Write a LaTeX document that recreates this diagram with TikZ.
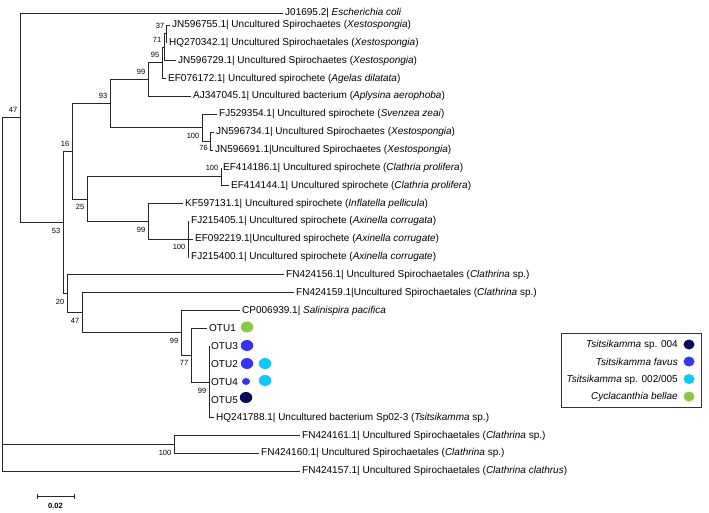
\documentclass[tikz,border=0pt]{standalone}
\usepackage{fontspec}
\setmainfont{Liberation Sans}
\usetikzlibrary{shapes.geometric}
\definecolor{cnavy}{HTML}{0A0A5C}
\definecolor{cblue}{HTML}{3535EE}
\definecolor{ccyan}{HTML}{10C8F5}
\definecolor{cgreen}{HTML}{8DC649}
\begin{document}
\begin{tikzpicture}[x=1pt,y=-1pt,
  br/.style={line width=0.9pt, draw=black!85},
  lab/.style={anchor=west, inner sep=0pt, font=\fontsize{10}{12}\selectfont},
  bs/.style={anchor=east, inner sep=0pt, font=\fontsize{7.5}{9}\selectfont},
  dot/.style={ellipse, minimum width=12.5pt, minimum height=11pt, inner sep=0pt, draw=none},
  sdot/.style={ellipse, minimum width=8pt, minimum height=7pt, inner sep=0pt, draw=none},
  ldot/.style={ellipse, minimum width=11pt, minimum height=10pt, inner sep=0pt, draw=none}]
\useasboundingbox (0,0) rectangle (709,512);

% ---------- internal nodes ----------
\coordinate (root)  at (2,294);
\coordinate (n47)   at (20,117.8);
\coordinate (n53)   at (63,222.6);
\coordinate (n16)   at (72,151.3);
\coordinate (n93)   at (110,103.6);
\coordinate (n99a)  at (148,79.7);
\coordinate (n95)   at (162,62.9);
\coordinate (n71)   at (164,47.3);
\coordinate (n37)   at (166,33.9);
\coordinate (n100b) at (202,127.6);
\coordinate (n76)   at (210,141);
\coordinate (n25)   at (87,199);
\coordinate (n100f) at (221,176.7);
\coordinate (n99b)  at (148,221.35);
\coordinate (n100c) at (188,239.2);
\coordinate (n20)   at (67,293.9);
\coordinate (n47b)  at (82,312.8);
\coordinate (n99c)  at (181,332.9);
\coordinate (n77)   at (191,355.2);
\coordinate (n99d)  at (209,382);
\coordinate (n100e) at (174,444.5);

% ---------- leaf branch ends ----------
\coordinate (l1)  at (283,13);
\coordinate (l2)  at (170,25);
\coordinate (l3)  at (167,42.85);
\coordinate (l4)  at (176,60.7);
\coordinate (l5)  at (166,78.55);
\coordinate (l6)  at (191,96.4);
\coordinate (l7)  at (217,114.25);
\coordinate (l8)  at (214,132.1);
\coordinate (l9)  at (213,149.95);
\coordinate (l10) at (221,167.8);
\coordinate (l11) at (229,185.65);
\coordinate (l12) at (183,203.5);
\coordinate (l13) at (189,221.35);
\coordinate (l14) at (193,239.2);
\coordinate (l15) at (189,257.05);
\coordinate (l16) at (284,274.9);
\coordinate (l17) at (294,292.75);
\coordinate (l18) at (240,310.6);
\coordinate (l19) at (207,328.45);
\coordinate (l20) at (209,346.3);
\coordinate (l21) at (209,364.15);
\coordinate (l22) at (209,382);
\coordinate (l23) at (209,399.85);
\coordinate (l24) at (214,417.7);
\coordinate (l25) at (300,435.55);
\coordinate (l26) at (259,453.4);
\coordinate (l27) at (300,471.25);

% ---------- branches ----------
\draw[br] (root) |- (n47);
\draw[br] (root) |- (n100e);
\draw[br] (root) |- (l27);
\draw[br] (n47) |- (l1);
\draw[br] (n47) |- (n53);
\draw[br] (n53) |- (n16);
\draw[br] (n53) |- (n20);
\draw[br] (n16) |- (n93);
\draw[br] (n16) |- (n25);
\draw[br] (n93) |- (n99a);
\draw[br] (n93) |- (n100b);
\draw[br] (n99a) |- (n95);
\draw[br] (n99a) |- (l6);
\draw[br] (n95) |- (n71);
\draw[br] (n95) |- (l5);
\draw[br] (n71) |- (n37);
\draw[br] (n71) |- (l4);
\draw[br] (n37) |- (l2);
\draw[br] (n37) |- (l3);
\draw[br] (n100b) |- (l7);
\draw[br] (n100b) |- (n76);
\draw[br] (n76) |- (l8);
\draw[br] (n76) |- (l9);
\draw[br] (n25) |- (n100f);
\draw[br] (n25) |- (n99b);
\draw[br] (n100f) |- (l10);
\draw[br] (n100f) |- (l11);
\draw[br] (n99b) |- (l12);
\draw[br] (n99b) |- (n100c);
\draw[br] (n100c) |- (l13);
\draw[br] (n100c) |- (l14);
\draw[br] (n100c) |- (l15);
\draw[br] (n20) |- (l16);
\draw[br] (n20) |- (n47b);
\draw[br] (n47b) |- (l17);
\draw[br] (n47b) |- (n99c);
\draw[br] (n99c) |- (l18);
\draw[br] (n99c) |- (n77);
\draw[br] (n77) |- (l19);
\draw[br] (n77) |- (n99d);
\draw[br] (n99d) |- (l20);
\draw[br] (n99d) |- (l21);
\draw[br] (n99d) |- (l22);
\draw[br] (n99d) |- (l23);
\draw[br] (n99d) |- (l24);
\draw[br] (n100e) |- (l25);
\draw[br] (n100e) |- (l26);

% ---------- leaf labels ----------
\node[lab] (t1)  at ([xshift=2pt]l1)  {J01695.2| \textit{Escherichia coli}};
\node[lab] (t2)  at ([xshift=2pt]l2)  {JN596755.1| Uncultured Spirochaetes (\textit{Xestospongia})};
\node[lab] (t3)  at ([xshift=2pt]l3)  {HQ270342.1| Uncultured Spirochaetales (\textit{Xestospongia})};
\node[lab] (t4)  at ([xshift=2pt]l4)  {JN596729.1| Uncultured Spirochaetes (\textit{Xestospongia})};
\node[lab] (t5)  at ([xshift=2pt]l5)  {EF076172.1| Uncultured spirochete (\textit{Agelas dilatata})};
\node[lab] (t6)  at ([xshift=2pt]l6)  {AJ347045.1| Uncultured bacterium (\textit{Aplysina aerophoba})};
\node[lab] (t7)  at ([xshift=2pt]l7)  {FJ529354.1| Uncultured spirochete (\textit{Svenzea zeai})};
\node[lab] (t8)  at ([xshift=2pt]l8)  {JN596734.1| Uncultured Spirochaetes (\textit{Xestospongia})};
\node[lab] (t9)  at ([xshift=2pt]l9)  {JN596691.1|Uncultured Spirochaetes (\textit{Xestospongia})};
\node[lab] (t10) at ([xshift=2pt]l10) {EF414186.1| Uncultured spirochete (\textit{Clathria prolifera})};
\node[lab] (t11) at ([xshift=2pt]l11) {EF414144.1| Uncultured spirochete (\textit{Clathria prolifera})};
\node[lab] (t12) at ([xshift=2pt]l12) {KF597131.1| Uncultured spirochete (\textit{Inflatella pellicula})};
\node[lab] (t13) at ([xshift=2pt]l13) {FJ215405.1| Uncultured spirochete (\textit{Axinella corrugata})};
\node[lab] (t14) at ([xshift=2pt]l14) {EF092219.1|Uncultured spirochete (\textit{Axinella corrugate})};
\node[lab] (t15) at ([xshift=2pt]l15) {FJ215400.1| Uncultured spirochete (\textit{Axinella corrugate})};
\node[lab] (t16) at ([xshift=2pt]l16) {FN424156.1| Uncultured Spirochaetales (\textit{Clathrina} sp.)};
\node[lab] (t17) at ([xshift=2pt]l17) {FN424159.1|Uncultured Spirochaetales (\textit{Clathrina} sp.)};
\node[lab] (t18) at ([xshift=2pt]l18) {CP006939.1| \textit{Salinispira pacifica}};
\node[lab] (t19) at ([xshift=2pt]l19) {OTU1};
\node[lab] (t20) at ([xshift=2pt]l20) {OTU3};
\node[lab] (t21) at ([xshift=2pt]l21) {OTU2};
\node[lab] (t22) at ([xshift=2pt]l22) {OTU4};
\node[lab] (t23) at ([xshift=2pt]l23) {OTU5};
\node[lab] (t24) at ([xshift=2pt]l24) {HQ241788.1| Uncultured bacterium Sp02-3 (\textit{Tsitsikamma} sp.)};
\node[lab] (t25) at ([xshift=2pt]l25) {FN424161.1| Uncultured Spirochaetales (\textit{Clathrina} sp.)};
\node[lab] (t26) at ([xshift=2pt]l26) {FN424160.1| Uncultured Spirochaetales (\textit{Clathrina} sp.)};
\node[lab] (t27) at ([xshift=2pt]l27) {FN424157.1| Uncultured Spirochaetales (\textit{Clathrina clathrus})};

% ---------- OTU dots ----------
\node[dot, fill=cgreen] (d1)  at (247,327) {};
\node[dot, fill=cblue]  (d3)  at (247,345.5) {};
\node[dot, fill=cblue]  (d2a) at (247,363.5) {};
\node[dot, fill=ccyan]  (d2b) at (265,363.5) {};
\node[sdot, fill=cblue] (d4a) at (246,381.5) {};
\node[dot, fill=ccyan]  (d4b) at (265,380.5) {};
\node[dot, fill=cnavy]  (d5)  at (246,397.5) {};

% ---------- bootstrap values ----------
\node[bs] (b47)   at ([shift={(-2.5,-7.5)}]n47)   {47};
\node[bs] (b53)   at ([shift={(-2.5,8)}]n53)      {53};
\node[bs] (b16)   at ([shift={(-2.5,-7.5)}]n16)   {16};
\node[bs] (b25)   at ([shift={(-2.5,8)}]n25)      {25};
\node[bs] (b93)   at ([shift={(-2.5,-7.5)}]n93)   {93};
\node[bs] (b99a)  at ([shift={(-2.5,-7.5)}]n99a)  {99};
\node[bs] (b95)   at ([shift={(-2.5,-7.5)}]n95)   {95};
\node[bs] (b71)   at ([shift={(-2.5,-7.5)}]n71)   {71};
\node[bs] (b37)   at ([shift={(-1.5,-8)}]n37)     {37};
\node[bs] (b100b) at ([shift={(-2.5,8)}]n100b)    {100};
\node[bs] (b76)   at ([shift={(-2,7)}]n76)        {76};
\node[bs] (b100f) at ([shift={(-2.5,-8.5)}]n100f) {100};
\node[bs] (b99b)  at ([shift={(-2.5,8.5)}]n99b)   {99};
\node[bs] (b100c) at ([shift={(-2.5,8)}]n100c)    {100};
\node[bs] (b20)   at ([shift={(-2.5,8)}]n20)      {20};
\node[bs] (b47b)  at ([shift={(-2.5,8)}]n47b)     {47};
\node[bs] (b99c)  at ([shift={(-2.5,8)}]n99c)     {99};
\node[bs] (b77)   at ([shift={(-2.5,8)}]n77)      {77};
\node[bs] (b99d)  at ([shift={(-2.5,9)}]n99d)     {99};
\node[bs] (b100e) at ([shift={(-2.5,8)}]n100e)    {100};

% ---------- legend ----------
\draw[line width=0.8pt, draw=black!80] (561,333) rectangle (701,407);
\node[lab, anchor=east] (g1) at (678,345) {\textit{Tsitsikamma} sp. 004};
\node[lab, anchor=east] (g2) at (678,362) {\textit{Tsitsikamma favus}};
\node[lab, anchor=east] (g3) at (678,379.5) {\textit{Tsitsikamma} sp. 002/005};
\node[lab, anchor=east] (g4) at (678,397) {\textit{Cyclacanthia bellae}};
\node[ldot, fill=cnavy]  (gd1) at (689,344.5) {};
\node[ldot, fill=cblue]  (gd2) at (689,361.5) {};
\node[ldot, fill=ccyan]  (gd3) at (689,379) {};
\node[ldot, fill=cgreen] (gd4) at (689,396.5) {};

% ---------- scale bar ----------
\coordinate (s1) at (37,496);
\coordinate (s2) at (74,496);
\draw[br] (s1) -- (s2);
\draw[br] ([yshift=2.5pt]s1) -- ([yshift=-2.5pt]s1);
\draw[br] ([yshift=2.5pt]s2) -- ([yshift=-2.5pt]s2);
\node[bs, anchor=center, font=\bfseries\fontsize{7.5}{9}\selectfont] (sl) at (55.5,506) {0.02};
\end{tikzpicture}
\end{document}
